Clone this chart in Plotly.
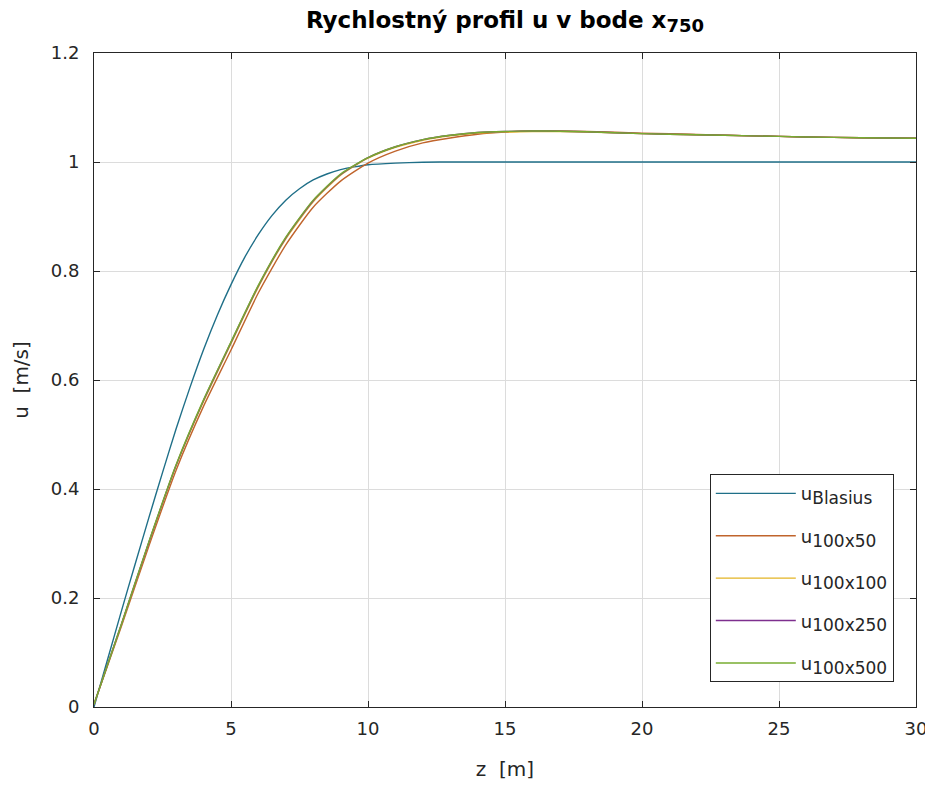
import plotly.graph_objects as go

# ---- data ----
z_blasius = [0, 0.5, 1, 1.5, 2, 2.5, 3, 3.5, 4, 4.5, 5, 5.5, 6, 6.5, 7, 7.5, 8, 8.5, 9, 9.5, 10, 11, 12, 13, 30]
u_blasius = [0, 0.088, 0.176, 0.262, 0.347, 0.430, 0.511, 0.586, 0.656, 0.719, 0.775, 0.825, 0.867, 0.902,
             0.930, 0.951, 0.967, 0.978, 0.986, 0.991, 0.995, 0.998, 0.9995, 1.0, 1.0]

z_num = [0, 1, 2, 3, 4, 5, 6, 7, 8, 9, 10, 11, 12, 13, 14, 15, 16, 17, 18, 20, 22, 24, 26, 28, 30]
u_100x50 = [0.005, 0.148, 0.295, 0.435, 0.552, 0.655, 0.760, 0.848, 0.917, 0.965, 0.998, 1.020, 1.035, 1.044,
            1.051, 1.055, 1.057, 1.057, 1.056, 1.053, 1.0505, 1.048, 1.046, 1.0445, 1.0435]
u_100x100 = [0.005, 0.151, 0.301, 0.443, 0.561, 0.667, 0.771, 0.859, 0.927, 0.976, 1.007, 1.027, 1.040, 1.048,
             1.053, 1.055, 1.056, 1.056, 1.055, 1.052, 1.050, 1.048, 1.046, 1.0445, 1.0435]
u_100x250 = [0.005, 0.152, 0.302, 0.444, 0.563, 0.669, 0.773, 0.861, 0.929, 0.977, 1.008, 1.028, 1.041, 1.049,
             1.054, 1.056, 1.057, 1.0565, 1.0555, 1.052, 1.050, 1.048, 1.046, 1.0445, 1.0435]
u_100x500 = [0.005, 0.152, 0.303, 0.445, 0.564, 0.670, 0.774, 0.862, 0.930, 0.978, 1.008, 1.028, 1.041, 1.049,
             1.054, 1.056, 1.057, 1.0565, 1.0555, 1.052, 1.050, 1.048, 1.046, 1.0445, 1.0435]

x_ticks = [0, 5, 10, 15, 20, 25, 30]
y_ticks = [0, 0.2, 0.4, 0.6, 0.8, 1.0, 1.2]
y_tick_text = ["0", "0.2", "0.4", "0.6", "0.8", "1", "1.2"]

sub_style = '<span style="font-size:17px">{}</span>'
series = [
    ("Blasius", z_blasius, u_blasius, "#1f6f88"),
    ("100x50", z_num, u_100x50, "#c0642c"),
    ("100x100", z_num, u_100x100, "#e3b425"),
    ("100x250", z_num, u_100x250, "#7e2f8e"),
    ("100x500", z_num, u_100x500, "#77ac30"),
]

fig = go.Figure()
for i, (name, xs, ys, col) in enumerate(series):
    label = "u<sub>" + sub_style.format(name) + "</sub>"
    fig.add_trace(go.Scatter(x=xs, y=ys, mode="lines", name=label, legendgroup="g%d" % i,
                             line=dict(color=col, width=1.4, shape="spline", smoothing=0.6)))

axis_col = "#262626"
font_family = "DejaVu Sans, Liberation Sans, Arial, sans-serif"

# the page body adds an 8 px offset; size/margins compensate for it
fig.update_layout(
    width=925, height=773,
    margin=dict(l=86, r=17, t=45, b=74, autoexpand=False),
    paper_bgcolor="white", plot_bgcolor="white",
    font=dict(family=font_family, size=18, color=axis_col),
    title=dict(text='<b>Rychlostný profil u v bode x<sub><span style="font-size:18px">750</span></sub></b>',
               x=(86 + 908) / 2 / 925, xanchor="center", y=0.985, yanchor="middle",
               font=dict(size=23, color="#000000")),
    showlegend=True,
    legend=dict(x=0.973, xanchor="right", y=0.038, yanchor="bottom",
                bgcolor="white", bordercolor=axis_col, borderwidth=1,
                font=dict(size=18, color=axis_col), tracegroupgap=16,
                traceorder="grouped", itemwidth=80),
)

fig.update_xaxes(range=[0, 30], tickvals=x_ticks, ticktext=[str(t) for t in x_ticks],
                 showgrid=True, gridcolor="#dcdcdc", gridwidth=1,
                 showline=True, linecolor=axis_col, linewidth=1, mirror="ticks",
                 ticks="inside", ticklen=6, tickcolor=axis_col, ticklabelstandoff=5,
                 ticklabeloverflow="allow", automargin=False,
                 zeroline=False, title=dict(text="z  [m]", font=dict(size=20), standoff=24))
fig.update_yaxes(range=[0, 1.2], tickvals=y_ticks, ticktext=y_tick_text,
                 showgrid=True, gridcolor="#dcdcdc", gridwidth=1,
                 showline=True, linecolor=axis_col, linewidth=1, mirror="ticks",
                 ticks="inside", ticklen=6, tickcolor=axis_col, ticklabelstandoff=10,
                 ticklabeloverflow="allow", automargin=False,
                 zeroline=False, title=dict(text="u  [m/s]", font=dict(size=20), standoff=16))

fig.write_html("out.html")
